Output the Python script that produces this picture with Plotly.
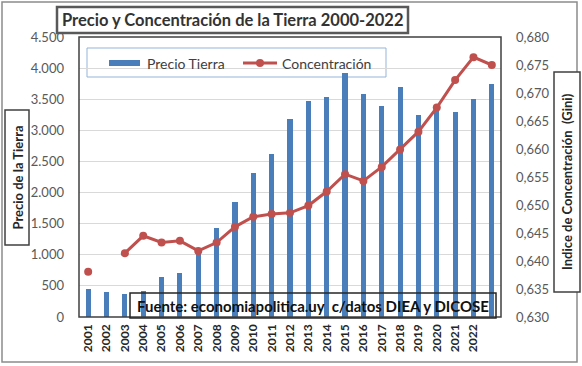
import plotly.graph_objects as go

# ---------------- data ----------------
year_labels = ["2001", "2002", "2003", "2004", "2005", "2006", "2007", "2008", "2009", "2010", "2011",
               "2012", "2013", "2014", "2015", "2016", "2017", "2018", "2019", "2020", "2021", "2022"]
precio_tierra = [445, 407, 365, 410, 648, 702, 1050, 1426, 1844, 2320, 2626, 3188, 3473, 3532,
                 3928, 3590, 3392, 3703, 3252, 3350, 3290, 3505, 3746]
concentracion = [0.6381, None, 0.6414, 0.6445, 0.6433, 0.6436, 0.6418, 0.6433, 0.6461, 0.6479,
                 0.6484, 0.6486, 0.6499, 0.6524, 0.6555, 0.6543, 0.6568, 0.6599, 0.6631, 0.6674,
                 0.6723, 0.6764, 0.6750]
positions = list(range(len(precio_tierra)))
tick_positions = positions[:len(year_labels)]

BLUE = "#4A7EBB"
RED = "#C0504D"
FONT = "Lato"

W, H = 582, 366
L, R, T, B = 79, 501, 37, 317


def PX(x):
    return (x - L) / (R - L)


def PY(y):
    return (B - y) / (B - T)


fig = go.Figure()
fig.add_trace(go.Bar(x=positions, y=precio_tierra, name="Precio Tierra",
                     marker=dict(color=BLUE, line=dict(width=0)), width=0.28,
                     yaxis="y", showlegend=False))
fig.add_trace(go.Scatter(x=positions, y=concentracion, name="Concentración",
                         mode="lines+markers", connectgaps=False,
                         line=dict(color=RED, width=3),
                         marker=dict(color=RED, size=8),
                         yaxis="y2", showlegend=False))

shapes = []
annotations = []

# outer chart border
shapes.append(dict(type="rect", xref="paper", yref="paper",
                   x0=PX(2), x1=PX(577), y0=PY(362), y1=PY(2),
                   line=dict(color="#8C8C8C", width=1.5), layer="below"))
# plot area border
shapes.append(dict(type="rect", xref="paper", yref="paper",
                   x0=0, x1=1, y0=0, y1=1,
                   line=dict(color="#404040", width=1.5), layer="above"))

# title box
shapes.append(dict(type="rect", xref="paper", yref="paper",
                   x0=PX(57), x1=PX(408), y0=PY(33), y1=PY(7),
                   line=dict(color="#595959", width=2.5), fillcolor="white", layer="above"))
annotations.append(dict(text="<b>Precio y Concentración de la Tierra 2000-2022</b>",
                        xref="paper", yref="paper", x=PX(232.5), y=PY(20.5),
                        xanchor="center", yanchor="middle", showarrow=False,
                        font=dict(family=FONT, size=16.5, color="#333333")))

# legend
shapes.append(dict(type="rect", xref="paper", yref="paper",
                   x0=PX(87), x1=PX(386), y0=PY(77), y1=PY(48),
                   line=dict(color="#95B3D7", width=1), fillcolor="white", layer="between"))
shapes.append(dict(type="rect", xref="paper", yref="paper",
                   x0=PX(109), x1=PX(140), y0=PY(66), y1=PY(60),
                   line=dict(width=0), fillcolor=BLUE, layer="above"))
shapes.append(dict(type="line", xref="paper", yref="paper",
                   x0=PX(243), x1=PX(277), y0=PY(63), y1=PY(63),
                   line=dict(color=RED, width=3), layer="above"))
shapes.append(dict(type="circle", xref="paper", yref="paper",
                   x0=PX(256), x1=PX(264), y0=PY(67), y1=PY(59),
                   line=dict(width=0), fillcolor=RED, layer="above"))
annotations.append(dict(text="Precio Tierra", xref="paper", yref="paper",
                        x=PX(145), y=PY(63), xanchor="left", yanchor="middle", showarrow=False,
                        font=dict(family=FONT, size=14, color="#404040")))
annotations.append(dict(text="Concentración", xref="paper", yref="paper",
                        x=PX(280), y=PY(63), xanchor="left", yanchor="middle", showarrow=False,
                        font=dict(family=FONT, size=14, color="#404040")))

# source box
shapes.append(dict(type="rect", xref="paper", yref="paper",
                   x0=PX(130), x1=PX(496), y0=PY(318), y1=PY(293),
                   line=dict(color="#262626", width=1.5), layer="above"))
annotations.append(dict(text="<b>Fuente: economiapolitica.uy  c/datos DIEA y DICOSE</b>",
                        xref="paper", yref="paper", x=PX(313), y=PY(305.5),
                        xanchor="center", yanchor="middle", showarrow=False,
                        font=dict(family=FONT, size=15, color="#111111")))

# left axis title box
shapes.append(dict(type="rect", xref="paper", yref="paper",
                   x0=PX(5), x1=PX(29), y0=PY(245), y1=PY(110),
                   line=dict(color="#404040", width=1.5), fillcolor="white", layer="above"))
annotations.append(dict(text="<b>Precio de la Tierra</b>", xref="paper", yref="paper",
                        x=PX(17), y=PY(177.5), xanchor="center", yanchor="middle",
                        textangle=-90, showarrow=False,
                        font=dict(family=FONT, size=13, color="#262626")))

# right axis title box
shapes.append(dict(type="rect", xref="paper", yref="paper",
                   x0=PX(554), x1=PX(580), y0=PY(292), y1=PY(72),
                   line=dict(color="#404040", width=1.5), fillcolor="white", layer="above"))
annotations.append(dict(text="<b>Indice de Concentración  (Gini)</b>", xref="paper", yref="paper",
                        x=PX(567), y=PY(182), xanchor="center", yanchor="middle",
                        textangle=-90, showarrow=False,
                        font=dict(family=FONT, size=13, color="#262626")))

fig.update_layout(
    width=W, height=H,
    margin=dict(l=L, r=W - R, t=T, b=H - B, pad=0),
    paper_bgcolor="white", plot_bgcolor="white",
    separators=",.",
    showlegend=False,
    bargap=0,
    hovermode=False,
    shapes=shapes,
    annotations=annotations,
    xaxis=dict(range=[-0.5, len(positions) - 0.5],
               tickmode="array", tickvals=tick_positions, ticktext=year_labels,
               tickangle=-90, showgrid=False, zeroline=False, showline=False,
               ticks="", ticklabelstandoff=4,
               tickfont=dict(family=FONT, size=12, color="#262626", weight="bold")),
    yaxis=dict(range=[0, 4500], dtick=500, tickformat=",d",
               showgrid=True, gridcolor="#D9D9D9", gridwidth=1,
               zeroline=False, showline=False, ticks="",
               ticklabelstandoff=14,
               tickfont=dict(family=FONT, size=13, color="#595959")),
    yaxis2=dict(range=[0.630, 0.680], dtick=0.005, tickformat=".3f",
                overlaying="y", side="right", showgrid=False,
                zeroline=False, showline=False, ticks="",
                ticklabelstandoff=14,
                tickfont=dict(family=FONT, size=13, color="#595959")),
)

fig.write_html("out.html",
               config={"displayModeBar": False, "staticPlot": True},
               post_script="document.body.style.margin='0px';document.body.style.overflow='hidden';")
